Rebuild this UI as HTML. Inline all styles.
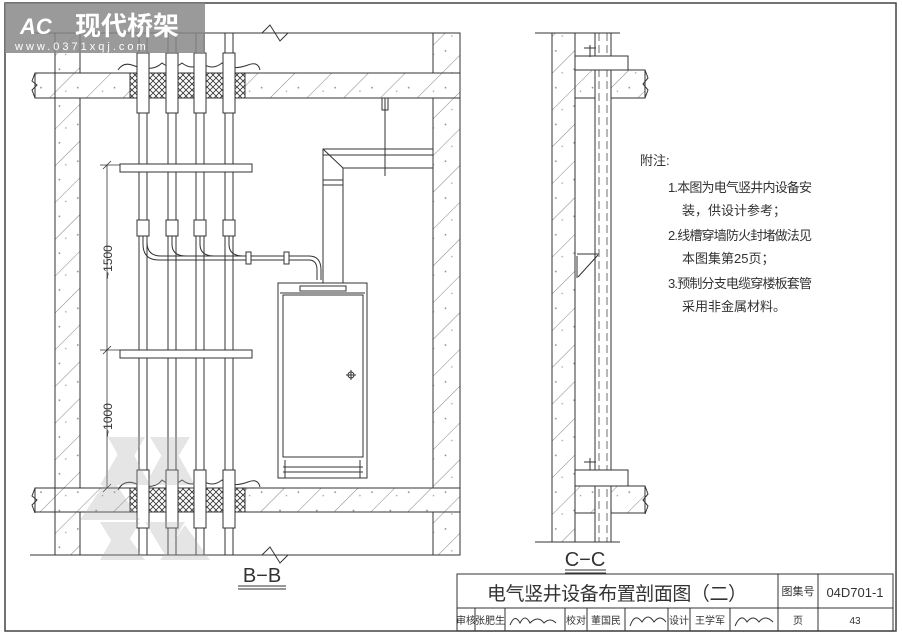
<!DOCTYPE html>
<html><head><meta charset="utf-8"><style>
html,body{margin:0;padding:0;background:#fff;}
svg{display:block;}
text{font-family:"Liberation Sans","Noto Sans CJK SC",sans-serif;}
</style></head><body>
<svg width="902" height="634" viewBox="0 0 902 634" xmlns="http://www.w3.org/2000/svg">
<defs>
<pattern id="h" width="26" height="26" patternUnits="userSpaceOnUse" patternTransform="rotate(45)">
<rect width="26" height="26" fill="#fff"/><line x1="0" y1="0" x2="0" y2="26" stroke="#666" stroke-width="0.8"/>
<circle cx="13" cy="7" r="0.9" fill="#888"/><circle cx="7" cy="18" r="0.7" fill="#999"/>
</pattern>
<pattern id="x" width="6" height="6" patternUnits="userSpaceOnUse">
<rect width="6" height="6" fill="#fff"/><path d="M0 0L6 6M6 0L0 6" stroke="#333" stroke-width="0.8"/>
</pattern>
</defs>
<g stroke="#333" stroke-width="1" fill="none">
<rect x="5" y="3" width="891" height="628" stroke="#444" stroke-width="1.5"/>

<rect x="55" y="33" width="25" height="522" fill="url(#h)"/>
<rect x="433" y="33" width="27" height="522" fill="url(#h)"/>
<rect x="35" y="73" width="425" height="25" fill="url(#h)"/>
<rect x="35" y="488" width="425" height="24" fill="url(#h)"/>
<rect x="80" y="98" width="353" height="390" fill="#fff"/>
<rect x="80" y="512" width="353" height="43" fill="#fff"/>
<rect x="80" y="33" width="353" height="40" fill="#fff"/>
<path d="M80 98V488M433 98V488M80 33V73M433 33V73M80 512V555M433 512V555"/>
<path d="M55 33V555M460 33V555"/>
<path d="M30 33H262l8-8 10 16 8-8H460"/>
<path d="M30 555H262l8-8 10 16 8-8H460"/>
<path d="M35 73H460M35 98H460M35 488H460M35 512H460"/>
<path d="M35 73l-3 8 5 4-5 5 3 8M35 488l-3 8 5 4-5 5 3 8"/>

<rect x="130" y="73" width="115" height="25" fill="url(#x)"/>
<rect x="130" y="488" width="115" height="24" fill="url(#x)"/>
<path d="M118 70q5-8 14-5q20 8 30-2q10 8 20 0q10 8 20 0q10 8 20 0q10 8 26 2q10-4 12 5" fill="#fff"/>
<path d="M118 490q5-10 16-7q20 8 28-3q10 8 20 0q10 8 20 0q10 8 20 0q10 8 26 2q10-4 12 5"/>

<g fill="#fff">
<rect x="139" y="33" width="8" height="522"/><rect x="168" y="33" width="8" height="522"/>
<rect x="196" y="33" width="8" height="522"/><rect x="225" y="33" width="8" height="522"/>
<rect x="137" y="53" width="12" height="60"/><rect x="166" y="53" width="12" height="60"/>
<rect x="194" y="53" width="12" height="60"/><rect x="223" y="53" width="12" height="60"/>
<rect x="137" y="470" width="12" height="58"/><rect x="166" y="470" width="12" height="58"/>
<rect x="194" y="470" width="12" height="58"/><rect x="223" y="470" width="12" height="58"/>
<rect x="137" y="220" width="12" height="16"/><rect x="166" y="220" width="12" height="16"/>
<rect x="194" y="220" width="12" height="16"/><rect x="223" y="220" width="12" height="16"/>
<rect x="120" y="164" width="132" height="8"/>
<rect x="120" y="350" width="132" height="8"/>
</g>
<path d="M143 236v8q0 16 16 16h150q8 0 8 10v10M147 236v6q0 14 14 14h148q12 0 12 14v10M172 236v8q0 12 14 12M200 236v8q0 12 14 12M229 236v8q0 12 14 12"/>
<rect x="246" y="252" width="5" height="12" fill="#fff"/><rect x="284" y="252" width="5" height="12" fill="#fff"/>
<path d="M323 283V149H433M343 283V168H433M323 149l20 19M323 155H433M323 180h20M323 185h20"/>
<path d="M385 98V176M382 98h6v12h-6z"/>
<rect x="278" y="283" width="89" height="195" fill="#fff"/>
<rect x="300" y="286" width="46" height="5" fill="#fff"/>
<rect x="283" y="295" width="80" height="162"/>
<path d="M280 293H365M283 467H363M283 472H363"/>
<circle cx="351" cy="375" r="3"/><path d="M346 375h10M351 370v10"/>
<path d="M285 460v18M360 460v18"/>
<path d="M107 165V488M100 165h20M100 350h20M100 488h20M103 169l8-8M103 354l8-8M103 492l8-8" stroke-width="0.8"/>
</g>
<text transform="translate(112,262) rotate(-90)" font-size="12" text-anchor="middle" fill="#333">~1500</text>
<text transform="translate(112,420) rotate(-90)" font-size="12" text-anchor="middle" fill="#333">~1000</text>
<text x="262" y="582" font-size="20" text-anchor="middle" fill="#333">B−B</text>
<path d="M238 586H286M238 589H286" stroke="#333"/>

<g stroke="#333" stroke-width="1" fill="none">
<rect x="552" y="33" width="23" height="509" fill="url(#h)"/>
<rect x="575" y="70" width="70" height="28" fill="url(#h)"/>
<rect x="575" y="486" width="70" height="27" fill="url(#h)"/>
<path d="M645 70l3 8-5 6 5 6-3 8M645 486l3 8-5 6 5 6-3 8"/>
<path d="M535 33H620M535 542H620"/>
<rect x="595" y="33" width="16" height="509" fill="#fff"/>
<path d="M599 33V542M607 33V542" stroke-dasharray="8 4" stroke-width="0.7"/>
<rect x="575" y="56" width="53" height="14" fill="#fff"/>
<rect x="575" y="470" width="53" height="16" fill="#fff"/>
<path d="M577 254h22M577 256V278M578 277l20-22"/>
<path d="M590 45v12M584 48h12M590 458v12M584 462h12"/>
</g>
<text x="585" y="566" font-size="20" text-anchor="middle" fill="#333">C−C</text>
<path d="M565 570H606M565 573H606" stroke="#333"/>

<g font-size="13" fill="#333">
<text x="640" y="165">附注:</text>
<text x="668" y="192" textLength="144">1.本图为电气竖井内设备安</text>
<text x="682" y="215">装，供设计参考；</text>
<text x="668" y="240" textLength="144">2.线槽穿墙防火封堵做法见</text>
<text x="682" y="263">本图集第25页；</text>
<text x="668" y="288" textLength="144">3.预制分支电缆穿楼板套管</text>
<text x="682" y="311">采用非金属材料。</text>
</g>

<g stroke="#333" fill="none">
<rect x="457" y="574" width="436" height="57"/>
<path d="M457 608H893M778 574V631M818 574V631M475 608V631M505 608V631M565 608V631M587 608V631M625 608V631M668 608V631M690 608V631M730 608V631"/>
</g>
<g fill="#333">
<text x="617" y="600" font-size="19" text-anchor="middle" textLength="260">电气竖井设备布置剖面图（二）</text>
<text x="798" y="595" font-size="11" text-anchor="middle">图集号</text>
<text x="855" y="597" font-size="13" text-anchor="middle">04D701-1</text>
<g font-size="10">
<text x="466" y="624" text-anchor="middle">审核</text>
<text x="490" y="624" text-anchor="middle">张肥生</text>
<text x="576" y="624" text-anchor="middle">校对</text>
<text x="606" y="624" text-anchor="middle">董国民</text>
<text x="679" y="624" text-anchor="middle">设计</text>
<text x="710" y="624" text-anchor="middle">王学军</text>
<text x="798" y="624" text-anchor="middle">页</text>
<text x="855" y="624" text-anchor="middle">43</text>
</g>
</g>
<path d="M510 625q5-12 10-2q5-10 10 0q8-8 14 0q6-6 12 0M630 626q5-14 12-4q6-10 12 0q6-8 12 0M735 626q6-14 12-4q6-8 12 0q6-8 14 0" stroke="#333" fill="none"/>

<rect x="5" y="3" width="200" height="50" fill="#888" opacity="0.85"/>
<text x="20" y="34" font-size="22" font-weight="bold" fill="#fff" font-style="italic">AC</text>
<text x="75" y="35" font-size="26" font-weight="bold" fill="#fff">现代桥架</text>
<text x="15" y="50" font-size="11" fill="#fff" letter-spacing="3">www.0371xqj.com</text>
<g fill="#aaa" opacity="0.3">
<polygon points="108,437 145,437 126,470"/><polygon points="150,437 190,437 170,470"/>
<polygon points="126,440 150,485 100,485"/><polygon points="170,440 195,485 145,485"/>
<polygon points="80,520 110,475 140,520"/><polygon points="100,522 140,522 120,555"/>
<polygon points="145,522 185,522 165,555"/><polygon points="120,525 145,560 100,560"/>
<polygon points="185,525 210,560 160,560"/>
</g>
</svg>
</body></html>
